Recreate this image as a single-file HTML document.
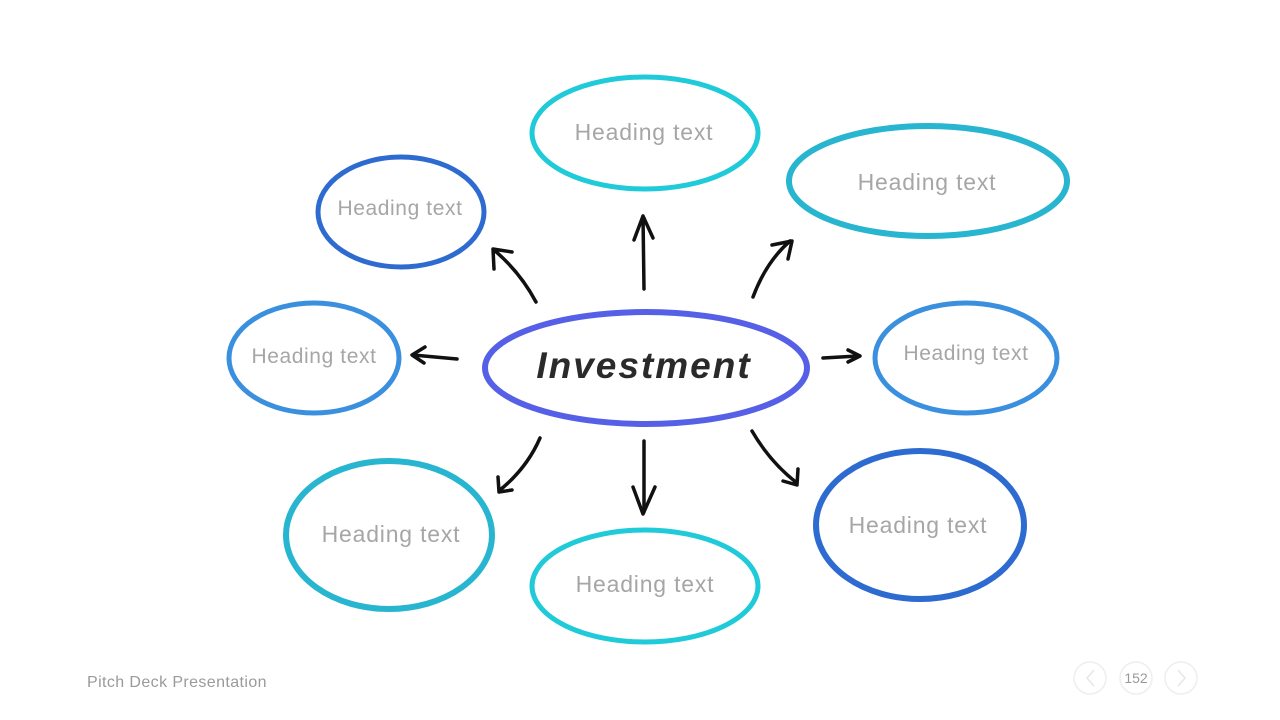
<!DOCTYPE html>
<html><head><meta charset="utf-8"><style>
html,body{margin:0;padding:0;background:#fff;}
svg{display:block;}
</style></head><body>
<svg width="1280" height="720" viewBox="0 0 1280 720" xmlns="http://www.w3.org/2000/svg">
<g fill="none" stroke-width="5">
<ellipse cx="645" cy="133" rx="113" ry="56" stroke="#1fcad9"/>
<ellipse cx="928" cy="181" rx="139" ry="55" stroke="#27b5d0" stroke-width="6"/>
<ellipse cx="401" cy="212" rx="83" ry="55" stroke="#2e6bd0"/>
<ellipse cx="314" cy="358" rx="85" ry="55" stroke="#3a90de"/>
<ellipse cx="966" cy="358" rx="91" ry="55" stroke="#3a90de"/>
<ellipse cx="389" cy="535" rx="103" ry="74" stroke="#27b5d0" stroke-width="6"/>
<ellipse cx="645" cy="586" rx="113" ry="56" stroke="#1fcad9"/>
<ellipse cx="920" cy="525" rx="104" ry="74" stroke="#2e6bd0" stroke-width="6"/>
<ellipse cx="646" cy="368" rx="161" ry="56" stroke="#5660e6" stroke-width="6"/>
</g>
<g fill="none" stroke="#111" stroke-width="3.5" stroke-linecap="round" stroke-linejoin="round">
<path d="M644 289 L643 216 M634 240 L643 216 L653 238"/>
<path d="M536 302 Q520 272 494 250 M494 269 L493 249 L512 252"/>
<path d="M753 297 Q766 262 790 241 M772 245 L792 241 L788 259"/>
<path d="M457 359 L413 355 M425 347 L412 355 L424 363"/>
<path d="M823 358 L858 356 M848 350 L860 356 L848 362"/>
<path d="M540 438 Q527 468 500 490 M498 477 L499 492 L512 490"/>
<path d="M644 441 L644 512 M633 487 L643 514 L655 487"/>
<path d="M752 431 Q770 462 797 483 M798 469 L797 485 L783 481"/>
</g>
<g font-family="'Liberation Sans',sans-serif" fill="#a6a6a6" text-anchor="middle" font-size="23" letter-spacing="0.8">
<text x="644" y="140">Heading text</text>
<text x="927" y="190">Heading text</text>
<text x="400" y="215" font-size="21" letter-spacing="0.6">Heading text</text>
<text x="314" y="363" font-size="21" letter-spacing="0.6">Heading text</text>
<text x="966" y="360" font-size="21" letter-spacing="0.6">Heading text</text>
<text x="391" y="542">Heading text</text>
<text x="645" y="592">Heading text</text>
<text x="918" y="533">Heading text</text>
</g>
<text x="644" y="378" text-anchor="middle" font-family="'Liberation Sans',sans-serif" font-weight="bold" font-style="italic" font-size="37" fill="#2a2a2a" letter-spacing="2">Investment</text>
<text x="87" y="687" font-family="'Liberation Sans',sans-serif" font-size="16" fill="#9a9a9a" letter-spacing="0.4">Pitch Deck Presentation</text>
<g fill="none" stroke="#eeeeee" stroke-width="1.5">
<circle cx="1090" cy="678" r="16"/><circle cx="1136" cy="678" r="16"/><circle cx="1181" cy="678" r="16"/>
</g>
<path d="M1094 670 L1087 678 L1094 686 M1178 670 L1185 678 L1178 686" fill="none" stroke="#e6e6e6" stroke-width="1.5"/>
<text x="1136" y="683" text-anchor="middle" font-family="'Liberation Sans',sans-serif" font-size="14" fill="#999">152</text>
</svg>
</body></html>
